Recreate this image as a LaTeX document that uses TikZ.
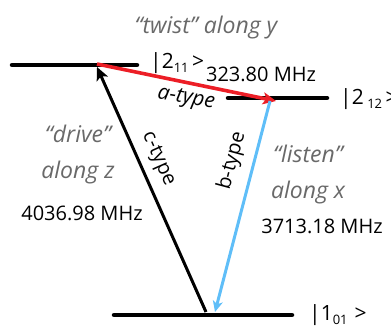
\documentclass[tikz,border=0pt]{standalone}
\usepackage{fontspec}
\setmainfont{Open Sans}
\usetikzlibrary{arrows.meta}
\definecolor{atype}{RGB}{236,30,38}
\definecolor{btype}{RGB}{95,190,248}
\definecolor{hint}{RGB}{105,105,105}
\begin{document}
\begin{tikzpicture}[x=1pt,y=-1pt]
  \tikzset{lvl/.style={line width=4.5pt,line cap=round},
    tr/.style={line width=3pt,-{Stealth[length=13pt,width=12pt,inset=3pt]}},
    txt/.style={inner sep=0pt,font=\fontsize{20}{20}\selectfont},
    hint/.style={inner sep=0pt,text=hint,font=\fontsize{23}{36}\selectfont\itshape,align=center},
    ket/.style={txt,anchor=west,font=\fontsize{21}{21}\selectfont}}
  \newcommand\subidx[1]{\raisebox{-0.4ex}{\fontsize{13}{13}\selectfont #1}}
  \useasboundingbox (0,0) rectangle (391,328);
  % energy levels
  \coordinate (t1) at (12,65);  \coordinate (t2) at (137,65);
  \coordinate (m1) at (228,98); \coordinate (m2) at (327,98);
  \coordinate (b1) at (114,315); \coordinate (b2) at (292,315);
  \draw[lvl] (t1) -- (t2);
  \draw[lvl] (m1) -- (m2);
  \draw[lvl] (b1) -- (b2);
  \node[ket] (k211) at (150,63) {|2\subidx{11}\,>};
  \node[ket] (k212) at (340,99) {|2\,\subidx{12}\,>};
  \node[ket] (k101) at (309,315) {|1\subidx{01}\,\,>};
  % transitions
  \coordinate (top) at (97,64);
  \coordinate (topc) at (97,67);
  \coordinate (mid) at (276,101);
  \coordinate (midb) at (270,101);
  \coordinate (botc) at (206,312);
  \coordinate (botb) at (215,312);
  \draw[tr,atype,line width=3.6pt] (top) -- (mid);
  \draw[tr,btype,-{Stealth[length=11pt,width=10pt,inset=3pt]}] (midb) -- (botb);
  \draw[tr,black] (botc) -- (topc);
  % labels
  \node[hint] (twist) at (206,28) {“twist” along y};
  \node[txt] (fa) at (261,74) {323.80 MHz};
  \node[txt,font=\fontsize{21}{21}\selectfont\itshape,rotate=-10] (at) at (186,99) {a-type};
  \node[txt,rotate=-66] (ct) at (158,159) {c-type};
  \node[txt,rotate=75] (bt) at (232,161) {b-type};
  \node[hint] (drive) at (78,155) {“drive”\\along z};
  \node[txt] (fc) at (82,213) {4036.98 MHz};
  \node[hint] (listen) at (308,175) {“listen”\\along x};
  \node[txt] (fb) at (322,226) {3713.18 MHz};
\end{tikzpicture}
\end{document}
